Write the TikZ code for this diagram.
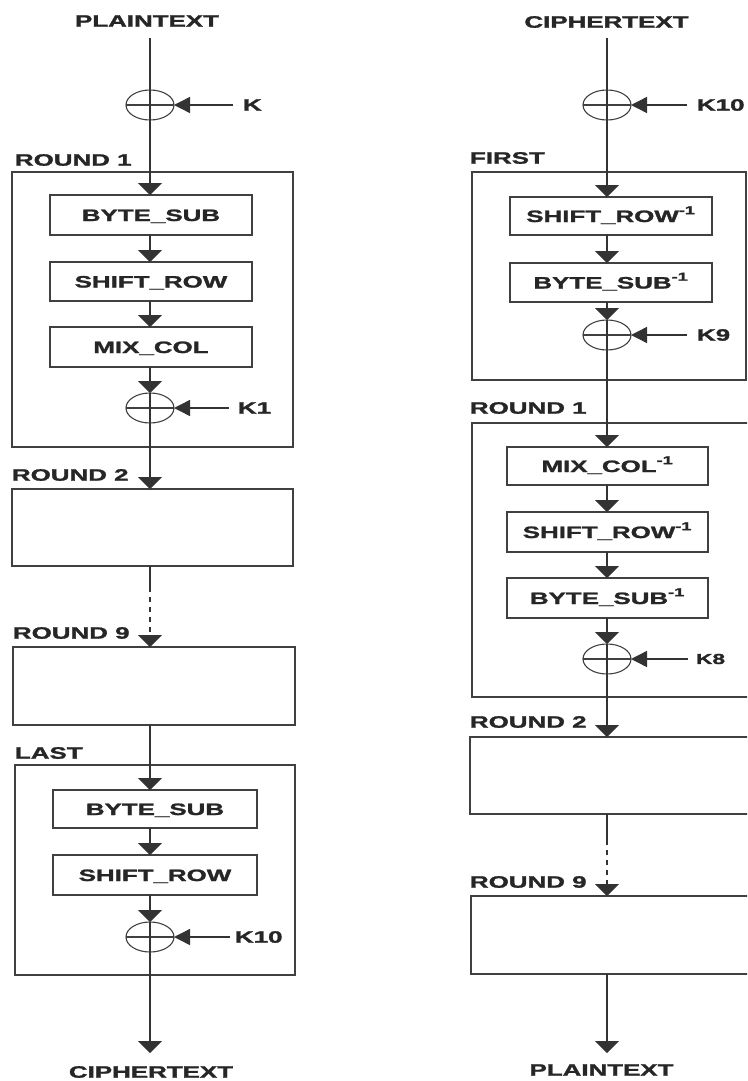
\documentclass[tikz,border=0pt]{standalone}
\usepackage{fontspec}
\setmainfont{Liberation Sans}[BoldFeatures={FakeBold=1.3}]
\usepackage{graphicx}
\usetikzlibrary{arrows.meta,shapes.geometric}

% wide bold lettering
\newcommand{\wtxt}[1]{\scalebox{1.57}[1]{#1}}
\newcommand{\invsup}{\raisebox{1.5pt}{\textsuperscript{-1}}}

\tikzset{
  lbl/.style={font=\bfseries\fontsize{16.5}{18}\selectfont, text=black!85, inner sep=0pt, outer sep=0pt},
  keylbl/.style={lbl, anchor=west},
  ttl/.style={lbl, anchor=west},
  stage/.style={lbl, draw=black!75, line width=1.6pt, text height=12pt, text depth=0pt},
  roundbox/.style={draw=black!75, line width=1.7pt, inner sep=0pt, outer sep=0pt},
  xor/.style={ellipse, draw=black!75, line width=1.1pt, minimum width=48pt, minimum height=30pt, inner sep=0pt, outer sep=0pt},
  xorbar/.style={draw=black!75, line width=1.1pt},
  flow/.style={draw=black!80, line width=1.9pt},
  arr/.style={flow, -{Triangle[length=12pt,width=24pt]}},
  karr/.style={flow, line width=1.4pt, -{Triangle[length=16pt,width=16pt]}},
}

\begin{document}
\begin{tikzpicture}[x=1pt,y=-1pt]
\useasboundingbox (0,0) rectangle (747,1081);
\clip (0,0) rectangle (747,1081);

% ---------------- encryption ----------------
\coordinate (cL) at (150,0);
\node[lbl] (inL) at (147,21) {\wtxt{PLAINTEXT}};
\coordinate (sL) at (150,38);
\node[xor] (xL0) at (150,105) {};
\node[keylbl] (kL0) at (243,105) {\wtxt{K}};

\node[ttl] (tr1L) at (15,160) {\wtxt{ROUND 1}};
\node[roundbox, minimum width=281pt, minimum height=275pt] (r1L) at (152.5,309.5) {};
\node[stage, minimum width=202pt, minimum height=40pt] (bs1) at (151,215) {\wtxt{BYTE\_SUB}};
\node[stage, minimum width=202pt, minimum height=39pt] (sr1) at (151,281.5) {\wtxt{SHIFT\_ROW}};
\node[stage, minimum width=202pt, minimum height=40pt] (mc1) at (151,347) {\wtxt{MIX\_COL}};
\node[xor] (xL1) at (150,408) {};
\node[keylbl] (kL1) at (238,408) {\wtxt{K1}};

\node[ttl] (tr2L) at (12,475) {\wtxt{ROUND 2}};
\node[roundbox, minimum width=281pt, minimum height=77pt] (r2L) at (152.5,527.5) {};
\node[ttl] (tr9L) at (13,633) {\wtxt{ROUND 9}};
\node[roundbox, minimum width=282pt, minimum height=78pt] (r9L) at (154,686) {};

\node[ttl] (tlast) at (15,753) {\wtxt{LAST}};
\node[roundbox, minimum width=280pt, minimum height=210pt] (lastL) at (155,870) {};
\node[stage, minimum width=204pt, minimum height=38pt] (bs3) at (155,809) {\wtxt{BYTE\_SUB}};
\node[stage, minimum width=204pt, minimum height=40pt] (sr3) at (155,875) {\wtxt{SHIFT\_ROW}};
\node[xor] (xL3) at (150,937) {};
\node[keylbl] (kL3) at (235,937) {\wtxt{K10}};
\coordinate (eL) at (150,1053);
\node[lbl] (outL) at (151,1072) {\wtxt{CIPHERTEXT}};

% cross bars of the XOR symbols
\foreach \x in {xL0,xL1,xL3} \draw[xorbar] (\x.west) -- (\x.east);

% data path
\draw[flow] (sL) -- (xL0.south);
\draw[arr] (xL0.south) -- (cL |- bs1.north);
\draw[arr] (cL |- bs1.south) -- (cL |- sr1.north);
\draw[arr] (cL |- sr1.south) -- (cL |- mc1.north);
\draw[arr] (cL |- mc1.south) -- (xL1.north);
\draw[flow] (xL1.north) -- (xL1.south);
\draw[arr] (xL1.south) -- (cL |- r2L.north);
\draw[flow] (cL |- r2L.south) -- ++(0,21) coordinate (dL);
\draw[arr, dash pattern=on 5pt off 5pt] (dL) -- (cL |- r9L.north);
\draw[arr] (cL |- r9L.south) -- (cL |- bs3.north);
\draw[arr] (cL |- bs3.south) -- (cL |- sr3.north);
\draw[arr] (cL |- sr3.south) -- (xL3.north);
\draw[flow] (xL3.north) -- (xL3.south);
\draw[arr] (xL3.south) -- (eL);

% round keys
\draw[karr] ([xshift=-10pt]kL0.west) -- (xL0.east);
\draw[karr] ([xshift=-9pt]kL1.west) -- (xL1.east);
\draw[karr] ([xshift=-5pt]kL3.west) -- (xL3.east);

% ---------------- decryption ----------------
\coordinate (cR) at (607,0);
\node[lbl] (inR) at (606.5,22) {\wtxt{CIPHERTEXT}};
\coordinate (sR) at (607,38);
\node[xor] (xR0) at (607,105) {};
\node[keylbl] (kR0) at (697,105) {\wtxt{K10}};

\node[ttl] (tfirst) at (470,158) {\wtxt{FIRST}};
\node[roundbox, minimum width=274pt, minimum height=208pt] (firstR) at (609,276) {};
\node[stage, minimum width=202pt, minimum height=38pt] (sri1) at (611,216) {\wtxt{SHIFT\_ROW\invsup}};
\node[stage, minimum width=202pt, minimum height=39pt] (bsi1) at (611,282.5) {\wtxt{BYTE\_SUB\invsup}};
\node[xor] (xR1) at (607,335) {};
\node[keylbl] (kR1) at (697,335) {\wtxt{K9}};

\node[ttl] (tr1R) at (470,408) {\wtxt{ROUND 1}};
\node[roundbox, minimum width=277pt, minimum height=274pt] (r1R) at (610.5,560) {};
\node[stage, minimum width=201pt, minimum height=38pt] (mci) at (607.5,466) {\wtxt{MIX\_COL\invsup}};
\node[stage, minimum width=201pt, minimum height=40pt] (srii) at (607.5,532) {\wtxt{SHIFT\_ROW\invsup}};
\node[stage, minimum width=201pt, minimum height=40pt] (bsii) at (607.5,598) {\wtxt{BYTE\_SUB\invsup}};
\node[xor] (xR2) at (607,659) {};
\node[keylbl, font=\bfseries\fontsize{14.5}{16}\selectfont] (kR2) at (696,659) {\wtxt{K8}};

\node[ttl] (tr2R) at (470,722) {\wtxt{ROUND 2}};
\node[roundbox, minimum width=279pt, minimum height=77pt] (r2R) at (609.5,775.5) {};
\node[ttl] (tr9R) at (470,882) {\wtxt{ROUND 9}};
\node[roundbox, minimum width=278pt, minimum height=78pt] (r9R) at (610,935) {};
\coordinate (eR) at (607,1053);
\node[lbl] (outR) at (601.5,1070) {\wtxt{PLAINTEXT}};

\foreach \x in {xR0,xR1,xR2} \draw[xorbar] (\x.west) -- (\x.east);

\draw[flow] (sR) -- (xR0.south);
\draw[arr] (xR0.south) -- (cR |- sri1.north);
\draw[arr] (cR |- sri1.south) -- (cR |- bsi1.north);
\draw[arr] (cR |- bsi1.south) -- (xR1.north);
\draw[flow] (xR1.north) -- (xR1.south);
\draw[arr] (xR1.south) -- (cR |- mci.north);
\draw[arr] (cR |- mci.south) -- (cR |- srii.north);
\draw[arr] (cR |- srii.south) -- (cR |- bsii.north);
\draw[arr] (cR |- bsii.south) -- (xR2.north);
\draw[flow] (xR2.north) -- (xR2.south);
\draw[arr] (xR2.south) -- (cR |- r2R.north);
\draw[flow] (cR |- r2R.south) -- ++(0,26) coordinate (dR);
\draw[arr, dash pattern=on 5pt off 5pt] (dR) -- (cR |- r9R.north);
\draw[arr] (cR |- r9R.south) -- (eR);

\draw[karr] ([xshift=-10pt]kR0.west) -- (xR0.east);
\draw[karr] ([xshift=-10pt]kR1.west) -- (xR1.east);
\draw[karr] ([xshift=-8pt]kR2.west) -- (xR2.east);
\end{tikzpicture}
\end{document}
